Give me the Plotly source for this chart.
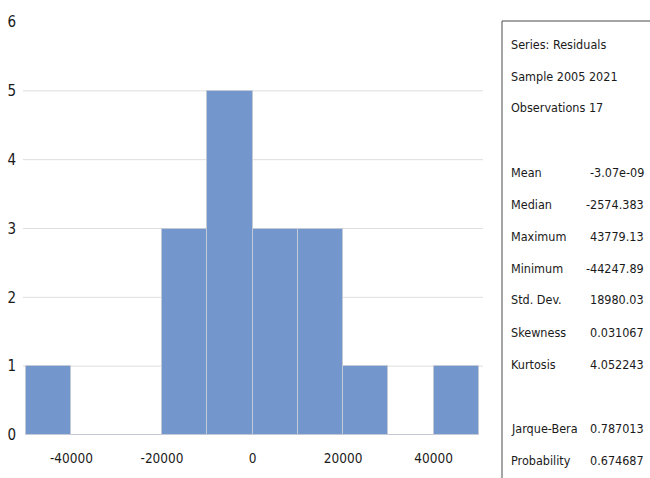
import plotly.graph_objects as go

# Residual histogram: bin edges and counts per bin
bin_edges = [-50000, -40000, -30000, -20000, -10000, 0, 10000, 20000, 30000, 40000, 50000]
bin_counts = [1, 0, 0, 3, 5, 3, 3, 1, 0, 1]

x_ticks = [-40000, -20000, 0, 20000, 40000]
y_ticks = [0, 1, 2, 3, 4, 5, 6]
grid_levels = [1, 2, 3, 4, 5]

# Descriptive statistics panel
header_lines = ["Series: Residuals", "Sample 2005 2021", "Observations 17"]
stat_names = ["Mean", "Median", "Maximum", "Minimum", "Std. Dev.", "Skewness", "Kurtosis"]
stat_values = ["-3.07e-09", "-2574.383", "43779.13", "-44247.89", "18980.03", "0.031067", "4.052243"]
test_names = ["Jarque-Bera", "Probability"]
test_values = ["0.787013", "0.674687"]

W, H = 650, 478
ML, MR, MT, MB = 23, 167, 22, 43
PW, PH = W - ML - MR, H - MT - MB

FONT = "DejaVu Sans Condensed, Liberation Sans Narrow, sans-serif"
TXT = "#1a1a1a"
STAT_SIZE = 12.5


def px_x(px):
    return (px - ML) / PW


def px_y(py):
    return (H - MB - py) / PH


centers = [(a + b) / 2 for a, b in zip(bin_edges[:-1], bin_edges[1:])]
widths = [b - a for a, b in zip(bin_edges[:-1], bin_edges[1:])]

fig = go.Figure()
fig.add_trace(go.Bar(
    x=centers, y=bin_counts, width=widths,
    marker=dict(color="#7396cc", line=dict(color="#c3cad6", width=1)),
    hoverinfo="x+y",
))

shapes = []
for g in grid_levels:
    shapes.append(dict(type="line", xref="paper", yref="y", x0=0, x1=1, y0=g, y1=g,
                       line=dict(color="#dedede", width=1), layer="below"))

# statistics panel frame (top and left edges)
shapes.append(dict(type="line", xref="paper", yref="paper",
                   x0=px_x(502), x1=px_x(651), y0=px_y(21), y1=px_y(21),
                   line=dict(color="#4a4a4a", width=1)))
shapes.append(dict(type="line", xref="paper", yref="paper",
                   x0=px_x(502), x1=px_x(502), y0=px_y(21), y1=px_y(480),
                   line=dict(color="#4a4a4a", width=1)))

annotations = []


def row_y(i):
    return px_y(44 + 32 * i)


def add_text(i, s, px, anchor):
    annotations.append(dict(text=s, xref="paper", yref="paper", x=px_x(px), y=row_y(i),
                            xanchor=anchor, yanchor="middle", showarrow=False,
                            font=dict(family=FONT, size=STAT_SIZE, color=TXT)))


for i, s in enumerate(header_lines):
    add_text(i, s, 509, "left")
for j, (n, v) in enumerate(zip(stat_names, stat_values)):
    add_text(4 + j, n, 509, "left")
    add_text(4 + j, v, 646, "right")
for j, (n, v) in enumerate(zip(test_names, test_values)):
    add_text(12 + j, n, 509, "left")
    add_text(12 + j, v, 646, "right")

fig.update_layout(
    width=W, height=H,
    margin=dict(l=ML, r=MR, t=MT, b=MB, pad=0),
    paper_bgcolor="white", plot_bgcolor="white",
    showlegend=False, bargap=0,
    shapes=shapes, annotations=annotations,
    font=dict(family=FONT, size=13, color=TXT),
    xaxis=dict(range=[-50700, 50900], tickvals=x_ticks, ticktext=[str(v) for v in x_ticks],
               showgrid=False, zeroline=False, automargin=False,
               showline=False, ticks="", ticklabelstandoff=13,
               tickfont=dict(family=FONT, size=13.5, color=TXT)),
    yaxis=dict(range=[0, 6], tickvals=y_ticks, ticktext=[str(v) for v in y_ticks],
               showgrid=False, zeroline=False, automargin=False,
               showline=False, ticks="", ticklabelstandoff=6,
               tickfont=dict(family=FONT, size=15, color=TXT)),
)

fig.write_html("out.html")
